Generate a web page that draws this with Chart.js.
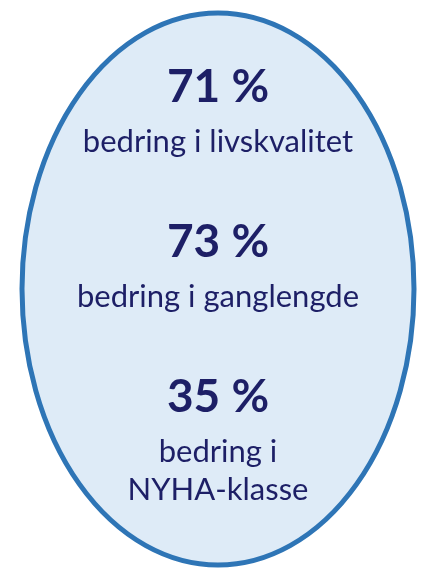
<!DOCTYPE html>
<html>
<head>
<meta charset="utf-8">
<script src="https://cdn.jsdelivr.net/npm/chart.js@4.4.0/dist/chart.umd.min.js"></script>
<style>
  html, body { margin: 0; padding: 0; background: #fff; }
  canvas { display: block; }
</style>
</head>
<body>
<canvas id="ovalChart" width="430" height="573"></canvas>
<script>
// values shown in the oval, top to bottom
const percents = [71, 73, 35];
const captions = [
  ['bedring i livskvalitet'],
  ['bedring i ganglengde'],
  ['bedring i', 'NYHA-klasse']
];
const rowIndex = [0, 1, 2];

const textColor = '#1d1f66';

// draws the oval behind everything
const ovalPlugin = {
  id: 'oval',
  beforeDatasetsDraw(chart) {
    const { ctx, chartArea } = chart;
    const cx = (chartArea.left + chartArea.right) / 2 + 3;
    const cy = 289;
    ctx.save();
    ctx.beginPath();
    ctx.ellipse(cx, cy, 196, 276, 0, 0, Math.PI * 2);
    ctx.fillStyle = '#deebf7';
    ctx.fill();
    ctx.lineWidth = 5;
    ctx.strokeStyle = '#2e75b6';
    ctx.stroke();
    ctx.restore();
  }
};

// writes the percent + caption at each point
const textPlugin = {
  id: 'rowText',
  afterDatasetsDraw(chart) {
    const { ctx } = chart;
    const meta = chart.getDatasetMeta(0);
    ctx.save();
    ctx.fillStyle = textColor;
    ctx.textAlign = 'center';
    ctx.textBaseline = 'alphabetic';
    meta.data.forEach((pt, i) => {
      ctx.font = 'bold 46px Lato';
      ctx.fillText(percents[i] + ' %', pt.x, pt.y + 17);
      ctx.font = '31px Lato';
      captions[i].forEach((line, j) => {
        ctx.fillText(line, pt.x, pt.y + 67 + j * 38);
      });
    });
    ctx.restore();
  }
};

new Chart(document.getElementById('ovalChart'), {
  type: 'scatter',
  data: {
    datasets: [{
      data: rowIndex.map(i => ({ x: 0, y: i })),
      pointRadius: 0,
      pointHoverRadius: 0
    }]
  },
  options: {
    responsive: false,
    animation: false,
    events: [],
    layout: { padding: 0 },
    plugins: { legend: { display: false }, tooltip: { enabled: false } },
    scales: {
      x: { display: false, min: -218, max: 212 },
      y: { display: false, reverse: true, min: -0.548, max: 3.148 }
    }
  },
  plugins: [ovalPlugin, textPlugin]
});
</script>
</body>
</html>
